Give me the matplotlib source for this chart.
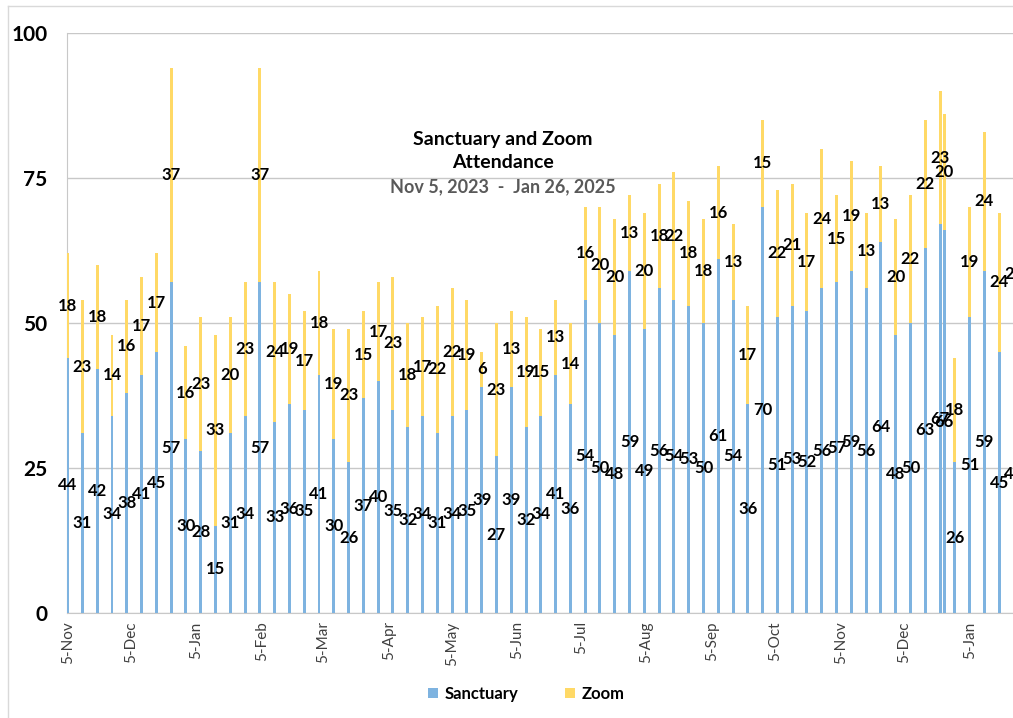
import matplotlib
matplotlib.use("Agg")
import matplotlib.pyplot as plt
import matplotlib.dates as mdates
from matplotlib.patches import Patch
from matplotlib.lines import Line2D
import pandas as pd

dates = ["2023-11-05","2023-11-12","2023-11-19","2023-11-26","2023-12-03","2023-12-10","2023-12-17","2023-12-24","2023-12-31",
         "2024-01-07","2024-01-14","2024-01-21","2024-01-28","2024-02-04","2024-02-11","2024-02-18","2024-02-25",
         "2024-03-03","2024-03-10","2024-03-17","2024-03-24","2024-03-31","2024-04-07","2024-04-14","2024-04-21","2024-04-28",
         "2024-05-05","2024-05-12","2024-05-19","2024-05-26","2024-06-02","2024-06-09","2024-06-16","2024-06-23","2024-06-30",
         "2024-07-07","2024-07-14","2024-07-21","2024-07-28","2024-08-04","2024-08-11","2024-08-18","2024-08-25",
         "2024-09-01","2024-09-08","2024-09-15","2024-09-22","2024-09-29","2024-10-06","2024-10-13","2024-10-20","2024-10-27",
         "2024-11-03","2024-11-10","2024-11-17","2024-11-24","2024-12-01","2024-12-08","2024-12-15","2024-12-22","2024-12-24","2024-12-29",
         "2025-01-05","2025-01-12","2025-01-19","2025-01-26"]
sanctuary = [44,31,42,34,38,41,45,57,30,
             28,15,31,34,57,33,36,35,
             41,30,26,37,40,35,32,34,31,
             34,35,39,27,39,32,34,41,36,
             54,50,48,59,49,56,54,53,
             50,61,54,36,70,51,53,52,56,
             57,59,56,64,48,50,63,67,66,26,
             51,59,45,48]
zoom = [18,23,18,14,16,17,17,37,16,
        23,33,20,23,37,24,19,17,
        18,19,23,15,17,23,18,17,22,
        22,19,6,23,13,19,15,13,14,
        16,20,20,13,20,18,22,18,
        18,16,13,17,15,22,21,17,24,
        15,19,13,13,20,22,22,23,20,18,
        19,24,24,21]
tick_dates = ["2023-11-05","2023-12-05","2024-01-05","2024-02-05","2024-03-05","2024-04-05","2024-05-05",
              "2024-06-05","2024-07-05","2024-08-05","2024-09-05","2024-10-05","2024-11-05","2024-12-05","2025-01-05"]
yticks = [0, 25, 50, 75, 100]
title_lines = ["Sanctuary and Zoom", "Attendance"]
subtitle = "Nov 5, 2023  -  Jan 26, 2025"

BLUE = "#7EB3E0"
YELLOW = "#FFD966"
GRID = "#C8C8C8"
FONT = "Lato"

W, H = 1013, 718
fig = plt.figure(figsize=(W/100, H/100), dpi=100)
ax_left, ax_right, ax_top, ax_bottom = 67, 1040, 33, 613
ax = fig.add_axes([ax_left/W, (H-ax_bottom)/H, (ax_right-ax_left)/W, (ax_bottom-ax_top)/H])

x = mdates.date2num(pd.to_datetime(dates).to_pydatetime())
ax.bar(x, sanctuary, width=1.4, color=BLUE, zorder=3)
ax.bar(x, zoom, bottom=sanctuary, width=1.4, color=YELLOW, zorder=3)

for xi, s, z in zip(x, sanctuary, zoom):
    ax.text(xi, s/2, str(s), ha="center", va="center", fontsize=12,
            fontweight="bold", family=FONT, color="black", zorder=5)
    ax.text(xi, s + z/2, str(z), ha="center", va="center", fontsize=12,
            fontweight="bold", family=FONT, color="black", zorder=5)

px_per_day = 2.1124
x0 = x[0] - 0.3
ax.set_xlim(x0, x0 + (ax_right-ax_left)/px_per_day)
ax.set_ylim(0, 100)

ax.set_yticks(yticks)
ax.set_yticklabels([str(v) for v in yticks], fontsize=15, fontweight="bold", family=FONT)
ax.tick_params(axis="y", length=0, pad=14)
tx = mdates.date2num(pd.to_datetime(tick_dates).to_pydatetime())
ax.set_xticks(tx)
ax.set_xticklabels([pd.Timestamp(d).strftime("%-d-%b") for d in tick_dates],
                   rotation=90, fontsize=11, family=FONT, color="#404040")
ax.tick_params(axis="x", length=0, pad=6)

ax.grid(axis="y", color=GRID, linewidth=1, zorder=0)
for sp in ["top", "right"]:
    ax.spines[sp].set_visible(False)
ax.spines["left"].set_color(GRID)
ax.spines["bottom"].set_color(GRID)

fig.text(503/W, 1-140/H, title_lines[0], ha="center", va="center", fontsize=14,
         fontweight="bold", family=FONT, color="black")
fig.text(503/W, 1-163/H, title_lines[1], ha="center", va="center", fontsize=14,
         fontweight="bold", family=FONT, color="black")
fig.text(503/W, 1-187/H, subtitle, ha="center", va="center", fontsize=13,
         fontweight="bold", family=FONT, color="#595959")

handles = [Patch(facecolor=BLUE, label="Sanctuary"), Patch(facecolor=YELLOW, label="Zoom")]
fig.legend(handles=handles, loc="center", bbox_to_anchor=(526/W, 1-694/H), ncol=2,
           frameon=False, handlelength=0.6, handleheight=0.6, handletextpad=0.4,
           columnspacing=2.8, prop={"family": FONT, "weight": "bold", "size": 12})

fig.add_artist(Line2D([8/W, 1.0], [1-6/H, 1-6/H], transform=fig.transFigure, color="#D9D9D9", lw=1))
fig.add_artist(Line2D([8/W, 8/W], [0, 1-6/H], transform=fig.transFigure, color="#D9D9D9", lw=1))

fig.savefig("out.png", dpi=100)
